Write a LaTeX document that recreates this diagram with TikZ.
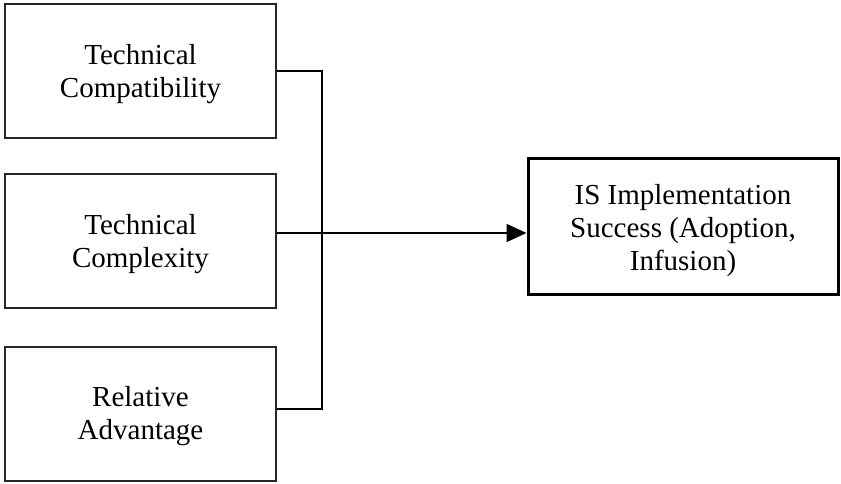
\documentclass[tikz,border=0pt]{standalone}
\usepackage{fontspec}
\setmainfont{Liberation Serif}
\usetikzlibrary{arrows.meta}
\begin{document}
\begin{tikzpicture}[x=1pt,y=-1pt,
  caption/.style={align=center, font=\fontsize{29}{33}\selectfont, inner sep=0pt, yshift=-3pt},
  factor/.style={draw=black!85, line width=2pt, minimum width=271pt, minimum height=134pt, inner sep=0pt},
  outcome/.style={draw=black, line width=3pt, minimum width=310pt, minimum height=135pt, inner sep=0pt},
  link/.style={draw=black, line width=1.8pt}]
\useasboundingbox (0,0) rectangle (841,484);
\node[factor, label={[caption]center:Technical\\Compatibility}] (tc) at (140.5,71) {};
\node[factor, label={[caption]center:Technical\\Complexity}] (tx) at (140.5,241) {};
\node[factor, label={[caption]center:Relative\\Advantage}] (ra) at (140.5,413.5) {};
\node[outcome, label={[caption, yshift=-1pt]center:IS Implementation\\Success (Adoption,\\Infusion)}] (is) at (683,226.5) {};
\coordinate (top) at (322,71);
\coordinate (bot) at (322,409);
\draw[link] (tc.east |- top) -- (top) -- (bot) -- (ra.east |- bot);
\draw[link, -{Triangle[length=20pt,width=18pt]}] (tx.east |- 0,233) -- (is.west |- 0,233);
\end{tikzpicture}
\end{document}
